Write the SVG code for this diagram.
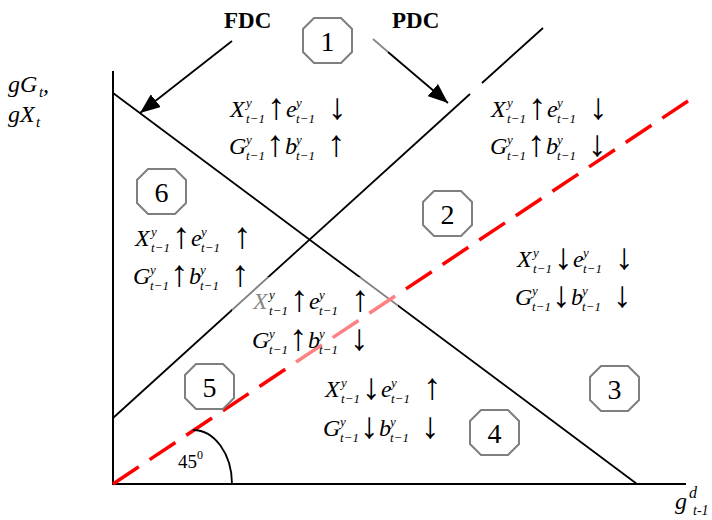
<svg xmlns="http://www.w3.org/2000/svg" width="712" height="520" viewBox="0 0 712 520">
<defs>
<style>
.m{font-family:"Liberation Serif",serif;font-style:italic;font-size:24px;fill:#000}
.s{font-family:"Liberation Serif",serif;font-style:italic;font-size:13px;fill:#000}
.a{font-family:"Liberation Serif","DejaVu Serif",serif;font-size:37px;fill:#000}
.b{font-family:"Liberation Serif",serif;font-weight:bold;font-size:23px;fill:#000}
.n{font-family:"Liberation Serif",serif;font-size:28px;fill:#000;text-anchor:middle}
.ln{stroke:#000;stroke-width:1.8;fill:none}
.ax{stroke:#000;stroke-width:2;fill:none}
.oct{fill:#fff;stroke:#7f7f7f;stroke-width:2}
</style>
<marker id="ah" markerWidth="20" markerHeight="16" refX="20" refY="8" orient="auto" markerUnits="userSpaceOnUse">
<path d="M0,0 L20,8 L0,16 z" fill="#000"/>
</marker>
<polygon id="octo" class="oct" points="11,0 38,0 49,11 49,34 38,45 11,45 0,34 0,11"/>
</defs>
<rect width="712" height="520" fill="#fff"/>

<g id="connectors">
<line class="ax" x1="113" y1="71" x2="113" y2="485"/>
<line class="ax" x1="112" y1="484" x2="686" y2="484"/>
<line id="fdc-line" class="ln" x1="113" y1="93" x2="637" y2="484"/>
<line id="pdc-line" class="ln" x1="113" y1="418" x2="470" y2="94"/>
<line class="ln" x1="482" y1="83" x2="543" y2="28"/>
<line id="line45" x1="113" y1="484" x2="688" y2="101" stroke="#ff0000" stroke-width="3.5" stroke-dasharray="31 13"/>
<path d="M193,430 A39,54 0 0 1 232,484" class="ln"/>
<line class="ln" x1="232" y1="41" x2="140" y2="113" marker-end="url(#ah)"/>
<line x1="373" y1="39" x2="388" y2="52" stroke="#888" stroke-width="1.8"/>
<line class="ln" x1="388" y1="52" x2="448" y2="103" marker-end="url(#ah)"/>
<rect x="232" y="277" width="166" height="87" fill="#fff" fill-opacity="0.5"/>
</g>

<g id="labels">
<text class="b" x="224" y="28">FDC</text>
<text class="b" x="392" y="28">PDC</text>
<text class="m" x="8" y="92">gG</text><text class="s" x="39" y="97" style="font-size:15px">t</text><text class="m" x="43" y="92">,</text>
<text class="m" x="8" y="122">gX</text><text class="s" x="36" y="127" style="font-size:15px">t</text>
<text class="m" x="675" y="509">g</text><text class="s" x="689" y="498" style="font-size:16px">d</text><text class="s" x="693" y="515" style="font-size:14px">t-1</text>
<text x="178" y="468" style="font-family:'Liberation Serif',serif;font-size:19px">45</text><text x="197" y="459" style="font-family:'Liberation Serif',serif;font-size:12px">0</text>
</g>

<g id="node1"><use href="#octo" x="303" y="18"/><text class="n" x="327.5" y="51">1</text></g>
<g id="node2"><use href="#octo" x="423" y="191"/><text class="n" x="447.5" y="224">2</text></g>
<g id="node3"><use href="#octo" x="590" y="366"/><text class="n" x="614.5" y="399">3</text></g>
<g id="node4"><use href="#octo" x="470" y="410"/><text class="n" x="494.5" y="443">4</text></g>
<g id="node5"><use href="#octo" x="185" y="364"/><text class="n" x="209.5" y="397">5</text></g>
<g id="node6"><use href="#octo" x="137" y="169"/><text class="n" x="161.5" y="202">6</text></g>

<g id="regionA">
<g transform="translate(230,117)"><text class="m" x="0" y="0">X</text><text class="s" x="16" y="-10">y</text><text class="s" x="16" y="6">t−1</text><text class="a" x="37" y="2">↑</text><text class="m" x="56" y="0">e</text><text class="s" x="66" y="-10">y</text><text class="s" x="66" y="6">t−1</text><text class="a" x="98" y="2">↓</text></g>
<g transform="translate(229,154)"><text class="m" x="0" y="0">G</text><text class="s" x="17" y="-10">y</text><text class="s" x="17" y="6">t−1</text><text class="a" x="37" y="2">↑</text><text class="m" x="56" y="0">b</text><text class="s" x="67" y="-10">y</text><text class="s" x="67" y="6">t−1</text><text class="a" x="98" y="2">↑</text></g>
</g>
<g id="regionB">
<g transform="translate(491,117)"><text class="m" x="0" y="0">X</text><text class="s" x="16" y="-10">y</text><text class="s" x="16" y="6">t−1</text><text class="a" x="37" y="2">↑</text><text class="m" x="56" y="0">e</text><text class="s" x="66" y="-10">y</text><text class="s" x="66" y="6">t−1</text><text class="a" x="98" y="2">↓</text></g>
<g transform="translate(490,154)"><text class="m" x="0" y="0">G</text><text class="s" x="17" y="-10">y</text><text class="s" x="17" y="6">t−1</text><text class="a" x="37" y="2">↑</text><text class="m" x="56" y="0">b</text><text class="s" x="67" y="-10">y</text><text class="s" x="67" y="6">t−1</text><text class="a" x="98" y="2">↓</text></g>
</g>
<g id="regionC">
<g transform="translate(135,246)"><text class="m" x="0" y="0">X</text><text class="s" x="16" y="-10">y</text><text class="s" x="16" y="6">t−1</text><text class="a" x="37" y="2">↑</text><text class="m" x="56" y="0">e</text><text class="s" x="66" y="-10">y</text><text class="s" x="66" y="6">t−1</text><text class="a" x="98" y="2">↑</text></g>
<g transform="translate(133,284)"><text class="m" x="0" y="0">G</text><text class="s" x="17" y="-10">y</text><text class="s" x="17" y="6">t−1</text><text class="a" x="37" y="2">↑</text><text class="m" x="56" y="0">b</text><text class="s" x="67" y="-10">y</text><text class="s" x="67" y="6">t−1</text><text class="a" x="98" y="2">↑</text></g>
</g>
<g id="regionD">
<g transform="translate(253,309)"><text class="m" x="0" y="0" style="fill:#888">X</text><text class="s" x="16" y="-10">y</text><text class="s" x="16" y="6">t−1</text><text class="a" x="37" y="2">↑</text><text class="m" x="56" y="0">e</text><text class="s" x="66" y="-10">y</text><text class="s" x="66" y="6">t−1</text><text class="a" x="98" y="2">↑</text></g>
<g transform="translate(252,348)"><text class="m" x="0" y="0">G</text><text class="s" x="17" y="-10">y</text><text class="s" x="17" y="6">t−1</text><text class="a" x="37" y="2">↑</text><text class="m" x="56" y="0">b</text><text class="s" x="67" y="-10">y</text><text class="s" x="67" y="6">t−1</text><text class="a" x="98" y="2">↓</text></g>
</g>
<g id="regionE">
<g transform="translate(517,267)"><text class="m" x="0" y="0">X</text><text class="s" x="16" y="-10">y</text><text class="s" x="16" y="6">t−1</text><text class="a" x="37" y="2">↓</text><text class="m" x="56" y="0">e</text><text class="s" x="66" y="-10">y</text><text class="s" x="66" y="6">t−1</text><text class="a" x="98" y="2">↓</text></g>
<g transform="translate(515,305)"><text class="m" x="0" y="0">G</text><text class="s" x="17" y="-10">y</text><text class="s" x="17" y="6">t−1</text><text class="a" x="37" y="2">↓</text><text class="m" x="56" y="0">b</text><text class="s" x="67" y="-10">y</text><text class="s" x="67" y="6">t−1</text><text class="a" x="98" y="2">↓</text></g>
</g>
<g id="regionF">
<g transform="translate(325,397)"><text class="m" x="0" y="0">X</text><text class="s" x="16" y="-10">y</text><text class="s" x="16" y="6">t−1</text><text class="a" x="37" y="2">↓</text><text class="m" x="56" y="0">e</text><text class="s" x="66" y="-10">y</text><text class="s" x="66" y="6">t−1</text><text class="a" x="98" y="2">↑</text></g>
<g transform="translate(323,436)"><text class="m" x="0" y="0">G</text><text class="s" x="17" y="-10">y</text><text class="s" x="17" y="6">t−1</text><text class="a" x="37" y="2">↓</text><text class="m" x="56" y="0">b</text><text class="s" x="67" y="-10">y</text><text class="s" x="67" y="6">t−1</text><text class="a" x="98" y="2">↓</text></g>
</g>
</svg>
